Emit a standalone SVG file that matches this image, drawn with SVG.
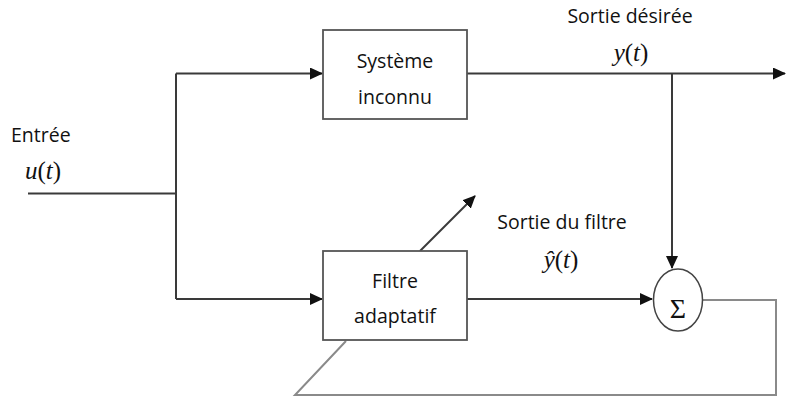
<svg xmlns="http://www.w3.org/2000/svg" width="786" height="397" viewBox="0 0 786 397">
<style>
.ln{fill:none;stroke:#3a3a3a;stroke-width:2}
.fb{fill:none;stroke:#8a8a8a;stroke-width:2}
.box{fill:#fff;stroke:#555;stroke-width:1.8}
.lbl{font-family:"Open Sans","Liberation Sans",sans-serif;font-size:19.5px;fill:#111}
.mth{font-family:"Liberation Serif","DejaVu Serif",serif;font-size:25px;font-style:italic;fill:#111}
</style>
<defs>
<marker id="ah" markerWidth="13" markerHeight="12" refX="12" refY="6" orient="auto" markerUnits="userSpaceOnUse">
<path d="M0,0 L13,6 L0,12 Z" fill="#111"/>
</marker>
</defs>
<g id="connectors">
<path class="ln" d="M28,193.5 H176"/>
<path class="ln" d="M176,73.5 V299"/>
<path class="ln" d="M176,73.5 H322" marker-end="url(#ah)"/>
<path class="ln" d="M176,299 H322" marker-end="url(#ah)"/>
<path class="ln" d="M467,73.5 H785" marker-end="url(#ah)"/>
<path class="ln" d="M672,73.5 V268" marker-end="url(#ah)"/>
<path class="ln" d="M467,299 H652" marker-end="url(#ah)"/>
<path class="ln" d="M420,251 L475,196" marker-end="url(#ah)"/>
<path class="fb" d="M703,300 H776 V395 H295 L346,341"/>
</g>
<g id="systeme">
<rect class="box" x="323" y="30" width="144" height="89"/>
<text class="lbl" x="395" y="68" text-anchor="middle">Système</text>
<text class="lbl" x="395" y="104" text-anchor="middle">inconnu</text>
</g>
<g id="filtre">
<rect class="box" x="323" y="251" width="144" height="89"/>
<text class="lbl" x="395" y="288" text-anchor="middle">Filtre</text>
<text class="lbl" x="395" y="323" text-anchor="middle">adaptatif</text>
</g>
<g id="sum">
<ellipse cx="678" cy="300" rx="24.5" ry="31" fill="#fff" stroke="#444" stroke-width="1.5"/>
<text x="678" y="318" text-anchor="middle" style="font-family:'Liberation Serif',serif;font-size:28px;fill:#111">Σ</text>
</g>
<g id="labels">
<text class="lbl" x="11" y="142">Entrée</text>
<text class="mth" x="25" y="179">u<tspan font-style="normal">(</tspan>t<tspan font-style="normal">)</tspan></text>
<text class="lbl" x="630" y="23" text-anchor="middle">Sortie désirée</text>
<text class="mth" x="631" y="61" text-anchor="middle">y<tspan font-style="normal">(</tspan>t<tspan font-style="normal">)</tspan></text>
<text class="lbl" x="562" y="229" text-anchor="middle">Sortie du filtre</text>
<text class="mth" x="561" y="268" text-anchor="middle">ŷ<tspan font-style="normal">(</tspan>t<tspan font-style="normal">)</tspan></text>
</g>
</svg>
